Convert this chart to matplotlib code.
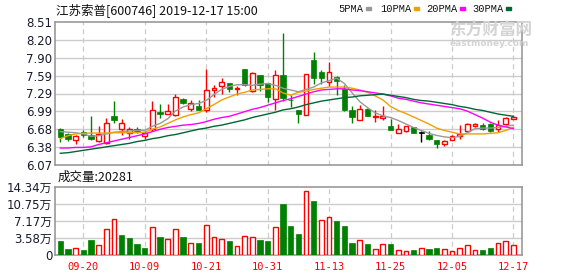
import numpy as np
import matplotlib
matplotlib.use('Agg')
import matplotlib.pyplot as plt

plt.rcParams['font.family'] = ['DejaVu Sans', 'Noto Sans CJK SC']

# daily candles
opens = [6.68, 6.60, 6.49, 6.63, 6.58, 6.48, 6.45, 6.90, 6.69, 6.62,
         6.69, 6.56, 6.68, 6.97, 6.946, 6.92, 7.19, 7.03, 7.08, 7.00,
         7.357, 7.425, 7.47, 7.375, 7.70, 7.33, 7.60, 7.47, 7.19, 7.60,
         7.18, 7.00, 6.92, 7.87, 7.65, 7.49, 7.57, 7.37, 7.015, 6.84,
         7.03, 6.89, 6.88, 6.73, 6.62, 6.645, 6.71, 6.62, 6.59, 6.49,
         6.435, 6.49, 6.56, 6.645, 6.73, 6.75, 6.775, 6.69, 6.775, 6.86]
highs = [6.70, 6.62, 6.59, 6.66, 6.90, 6.73, 6.88, 7.17, 6.86, 6.72,
         6.72, 6.645, 7.16, 7.11, 7.117, 7.28, 7.215, 7.175, 7.175, 7.70,
         7.43, 7.56, 7.47, 7.42, 7.70, 7.66, 7.60, 7.47, 7.69, 8.33,
         7.26, 7.00, 7.63, 7.99, 7.69, 7.82, 7.59, 7.43, 7.07, 7.09,
         7.05, 7.00, 7.07, 6.86, 6.775, 6.73, 6.72, 6.645, 6.645, 6.50,
         6.50, 6.575, 6.75, 6.79, 6.79, 6.79, 6.79, 6.83, 6.89, 6.92]
lows = [6.46, 6.48, 6.43, 6.55, 6.50, 6.46, 6.42, 6.78, 6.58, 6.51,
        6.62, 6.52, 6.655, 6.88, 6.935, 6.90, 7.117, 6.99, 7.00, 6.975,
        7.23, 7.28, 7.32, 7.26, 7.42, 7.32, 7.33, 7.15, 7.00, 7.17,
        7.06, 6.786, 6.92, 7.46, 7.46, 7.42, 7.26, 6.99, 6.79, 6.84,
        6.90, 6.80, 6.84, 6.66, 6.62, 6.64, 6.62, 6.46, 6.50, 6.36,
        6.40, 6.49, 6.52, 6.63, 6.72, 6.66, 6.64, 6.63, 6.76, 6.85]
closes = [6.54, 6.52, 6.56, 6.58, 6.52, 6.60, 6.78, 6.84, 6.78, 6.68,
          6.645, 6.62, 7.00, 6.935, 6.986, 7.23, 7.135, 7.12, 7.015, 7.35,
          7.39, 7.48, 7.36, 7.39, 7.43, 7.64, 7.43, 7.23, 7.60, 7.22,
          7.175, 6.946, 7.63, 7.56, 7.56, 7.66, 7.50, 7.00, 6.89, 7.03,
          6.90, 6.906, 6.91, 6.66, 6.69, 6.73, 6.62, 6.62, 6.52, 6.43,
          6.48, 6.56, 6.60, 6.775, 6.775, 6.69, 6.645, 6.76, 6.88, 6.89]

ma5 = [6.64, 6.63, 6.62, 6.60, 6.56, 6.57, 6.60, 6.63, 6.64, 6.65,
       6.66, 6.66, 6.73, 6.78, 6.86, 6.99, 7.06, 7.10, 7.12, 7.17,
       7.27, 7.36, 7.41, 7.44, 7.44, 7.43, 7.45, 7.46, 7.43, 7.38,
       7.35, 7.32, 7.36, 7.40, 7.47, 7.51, 7.55, 7.46, 7.30, 7.15,
       7.05, 6.96, 6.91, 6.88, 6.83, 6.77, 6.71, 6.66, 6.61, 6.575,
       6.55, 6.535, 6.56, 6.62, 6.69, 6.70, 6.70, 6.71, 6.73, 6.75]
ma10 = [6.52, 6.57, 6.60, 6.61, 6.615, 6.615, 6.615, 6.62, 6.62, 6.62,
        6.62, 6.63, 6.68, 6.72, 6.78, 6.84, 6.89, 6.93, 6.96, 7.03,
        7.10, 7.18, 7.23, 7.28, 7.31, 7.35, 7.36, 7.37, 7.37, 7.30,
        7.26, 7.31, 7.33, 7.36, 7.38, 7.40, 7.40, 7.40, 7.38, 7.35,
        7.31, 7.25, 7.18, 7.07, 7.00, 6.95, 6.89, 6.83, 6.77, 6.70,
        6.66, 6.63, 6.60, 6.60, 6.60, 6.60, 6.61, 6.62, 6.66, 6.71]
ma20 = [6.36, 6.36, 6.37, 6.37, 6.38, 6.42, 6.45, 6.48, 6.51, 6.54,
        6.57, 6.60, 6.64, 6.68, 6.71, 6.73, 6.75, 6.76, 6.78, 6.81,
        6.85, 6.88, 6.90, 6.94, 6.98, 7.02, 7.05, 7.09, 7.13, 7.17,
        7.20, 7.24, 7.28, 7.32, 7.35, 7.36, 7.37, 7.37, 7.35, 7.34,
        7.32, 7.30, 7.28, 7.25, 7.21, 7.19, 7.16, 7.13, 7.11, 7.09,
        7.07, 7.05, 7.03, 6.99, 6.93, 6.87, 6.80, 6.75, 6.72, 6.69]
ma30 = [6.27, 6.28, 6.30, 6.32, 6.34, 6.36, 6.38, 6.40, 6.42, 6.44,
        6.47, 6.49, 6.52, 6.54, 6.57, 6.59, 6.62, 6.65, 6.68, 6.70,
        6.73, 6.75, 6.78, 6.81, 6.84, 6.88, 6.91, 6.94, 6.97, 7.01,
        7.03, 7.06, 7.10, 7.13, 7.16, 7.18, 7.20, 7.22, 7.23, 7.25,
        7.26, 7.27, 7.28, 7.26, 7.24, 7.22, 7.19, 7.17, 7.16, 7.14,
        7.12, 7.10, 7.07, 7.05, 7.02, 7.00, 6.97, 6.94, 6.92, 6.90]

volumes = [29400, 12600, 14000, 10500, 31500, 20300, 53900, 74900, 41300, 35700,
           23100, 14700, 58100, 37100, 32900, 53900, 37100, 24500, 25200, 62300,
           37100, 32900, 29400, 18200, 39200, 37100, 31500, 29400, 58100, 107100,
           60200, 44100, 133700, 113400, 72800, 79100, 71400, 60200, 25200, 30800,
           22400, 11900, 23100, 23100, 10500, 7700, 10500, 14000, 12600, 14700,
           11900, 8400, 14000, 20300, 10500, 10500, 14700, 25200, 29400, 20281]
vol_dir = ['g', 'g', 'r', 'g', 'g', 'r', 'r', 'r', 'g', 'g',
           'g', 'g', 'r', 'g', 'r', 'r', 'g', 'r', 'g', 'r',
           'r', 'r', 'g', 'r', 'r', 'r', 'g', 'g', 'r', 'g',
           'g', 'g', 'r', 'g', 'r', 'r', 'g', 'g', 'g', 'r',
           'g', 'r', 'r', 'g', 'r', 'r', 'g', 'r', 'g', 'g',
           'r', 'r', 'r', 'r', 'r', 'g', 'g', 'r', 'r', 'r']

tick_pos = [3, 11, 19, 27, 35, 43, 51, 59]
tick_labels = ['09-20', '10-09', '10-21', '10-31', '11-13', '11-25', '12-05', '12-17']
price_ticks = [6.07, 6.375, 6.68, 6.985, 7.29, 7.595, 7.90, 8.205, 8.51]
price_labels = ['6.07', '6.38', '6.68', '6.99', '7.29', '7.59', '7.90', '8.20', '8.51']
vol_ticks = [0, 35850, 71700, 107550, 143400]
vol_labels = ['0', '3.58万', '7.17万', '10.75万', '14.34万']

RED = '#ff0000'
GREEN = '#008000'
W, H = 578, 276
fig = plt.figure(figsize=(W / 100, H / 100), dpi=100)
fig.patch.set_facecolor('white')

ax1 = fig.add_axes([55 / W, 1 - 165 / H, 467 / W, 143 / H])
ax2 = fig.add_axes([55 / W, 1 - 255 / H, 467 / W, 68.3 / H])

x = np.arange(len(closes))
for ax in (ax1, ax2):
    ax.set_xlim(-0.69, 60.12)
    for s in ax.spines.values():
        s.set_color('#999999')
        s.set_linewidth(1.2)
    ax.tick_params(length=0, colors='#1a1a2e', labelsize=8.5, pad=2)
    ax.set_xticks(tick_pos)
    for t in tick_pos:
        ax.axvline(t, color='#cccccc', lw=0.9, ls=(0, (4, 3)), zorder=0)

# price panel
ax1.set_ylim(6.07, 8.51)
ax1.set_yticks(price_ticks)
ax1.set_yticklabels(price_labels)
ax1.set_xticklabels([])
for yv in price_ticks[1:-1]:
    ax1.axhline(yv, color='#cccccc', lw=1, zorder=0)

for i in x:
    o, h, l, c = opens[i], highs[i], lows[i], closes[i]
    col = RED if c > o else (GREEN if c < o else 'black')
    ax1.vlines(i, l, h, color=col, lw=1, zorder=2)
    bot, ht = min(o, c), max(abs(c - o), 0.006)
    if c > o:
        ax1.bar(i, ht, bottom=bot, width=0.62, facecolor='white', edgecolor=col, lw=1, zorder=3)
    else:
        ax1.bar(i, ht, bottom=bot, width=0.7, facecolor=col, edgecolor=col, lw=0.5, zorder=3)

ax1.plot(x, ma5, color='#999999', lw=1, zorder=4)
ax1.plot(x, ma10, color='#f0a000', lw=1, zorder=4)
ax1.plot(x, ma20, color='#ff00ff', lw=1, zorder=4)
ax1.plot(x, ma30, color='#006633', lw=1, zorder=4)

# volume panel
ax2.set_ylim(0, 143400)
ax2.set_yticks(vol_ticks)
ax2.set_yticklabels(vol_labels)
ax2.set_xticklabels(tick_labels, color=RED, family='DejaVu Sans Mono', fontsize=7.5)
ax2.tick_params(axis='x', pad=5)
for yv in vol_ticks[1:-1]:
    ax2.axhline(yv, color='#cccccc', lw=1, zorder=0)
for i in x:
    if vol_dir[i] == 'r':
        ax2.bar(i, volumes[i], width=0.62, facecolor='white', edgecolor=RED, lw=1, zorder=3)
    else:
        ax2.bar(i, volumes[i], width=0.7, facecolor=GREEN, edgecolor=GREEN, lw=0.5, zorder=3)

# header texts
fig.text(56 / W, 1 - 10 / H, '江苏索普[600746] 2019-12-17 15:00', fontsize=9,
         family=['Noto Sans CJK SC', 'DejaVu Sans'], va='center', ha='left', color='#111111')
legend = [('5PMA', '#999999', 338), ('10PMA', '#f0a000', 380),
          ('20PMA', '#ff00ff', 426), ('30PMA', '#006633', 472)]
for name, col, px in legend:
    fig.text(px / W, 1 - 8.5 / H, name, fontsize=7.5, family='Liberation Mono',
             va='center', ha='left', color='#111111')
    n = len(name)
    fig.patches.append(plt.Rectangle(((px + n * 6.2 + 3) / W, 1 - 10 / H), 5 / W, 3 / H,
                                     transform=fig.transFigure, color=col))
fig.text(58 / W, 1 - 177 / H, '成交量:20281', fontsize=9,
         family=['Noto Sans CJK SC', 'DejaVu Sans'], va='center', ha='left', color='#111111')

# watermark
fig.text(449 / W, 1 - 31 / H, '东方财富网', fontsize=12, family='Noto Sans CJK SC',
         color='#d4d4d4', va='center', ha='left', weight='bold', zorder=1)
fig.text(450 / W, 1 - 43.5 / H, 'eastmoney.com', fontsize=6.5, color='#d4d4d4',
         va='center', ha='left', weight='bold', zorder=1)

fig.savefig('out.png', dpi=100)
